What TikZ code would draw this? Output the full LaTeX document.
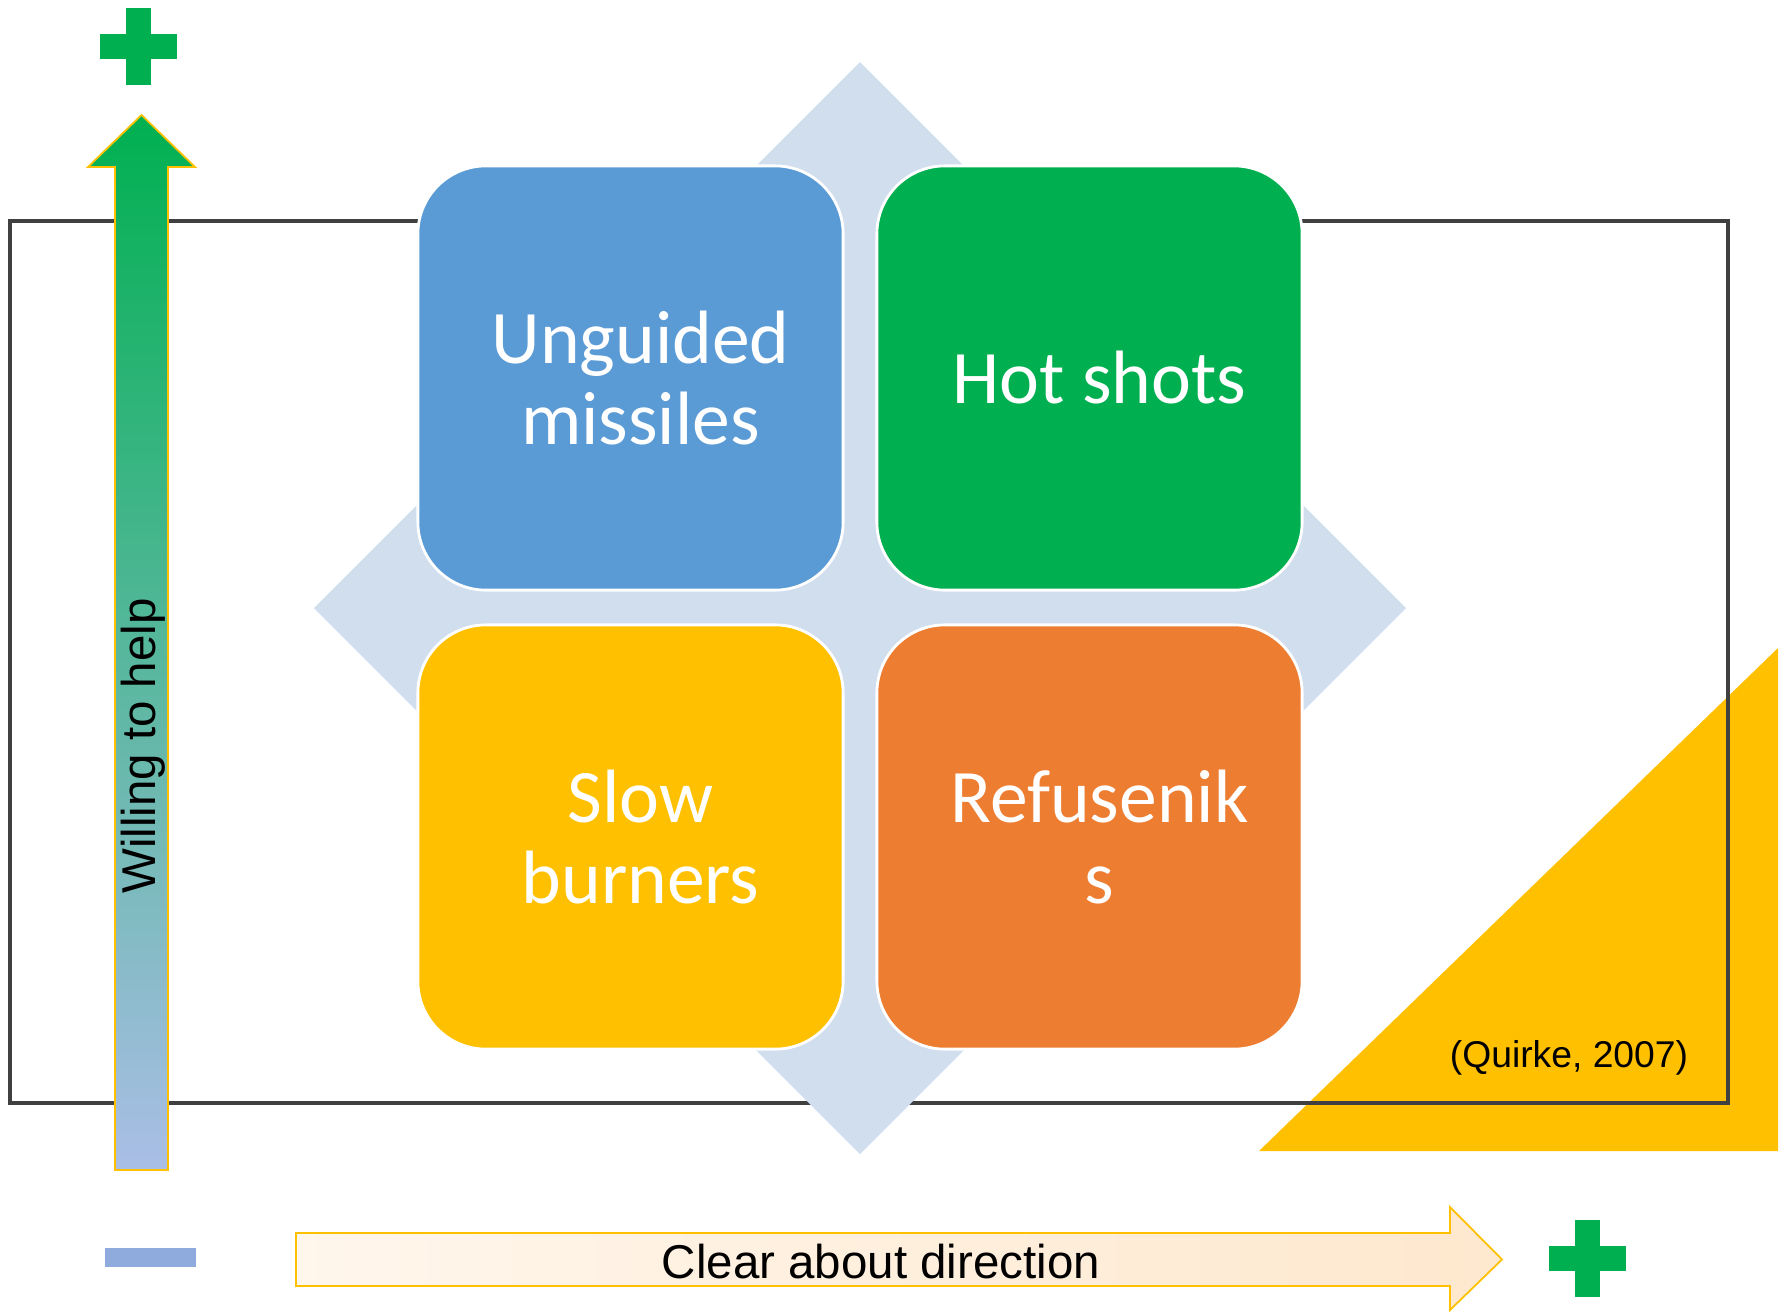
\documentclass[tikz,border=0pt]{standalone}
\usepackage{fontspec}
\usepackage{xcolor}
\setmainfont{Liberation Sans}
\newfontfamily\quadfont{Carlito}
\usetikzlibrary{positioning}

\definecolor{diamblue}{RGB}{209,222,238}
\definecolor{quadblue}{RGB}{91,155,213}
\definecolor{quadgreen}{RGB}{0,176,80}
\definecolor{quadyellow}{RGB}{255,192,0}
\definecolor{quadorange}{RGB}{237,125,49}
\definecolor{framegrey}{RGB}{64,64,64}
\definecolor{minusblue}{RGB}{143,170,220}
\definecolor{arrowlow}{RGB}{170,190,230}
\definecolor{peachleft}{RGB}{255,246,236}
\definecolor{peachright}{RGB}{254,232,206}

\begin{document}
\begin{tikzpicture}[x=0.01cm,y=-0.01cm]
\tikzstyle{every node}+=[inner sep=0pt]
\tikzstyle{quad}=[draw=white, line width=0.8pt, rounded corners=0.68cm, minimum width=4.25cm, minimum height=4.24cm]
\tikzstyle{quadtext}=[text=white, align=center, font=\quadfont\fontsize{21.5}{23.3}\selectfont]
\tikzstyle{plus}=[fill=quadgreen]
\tikzstyle{label}=[text=black, font=\fontsize{13.5}{16}\selectfont]
\useasboundingbox (0,0) rectangle (1787,1311);
\fill [quadyellow] (1259,1151) -- (1778,1151) -- (1778,648) -- cycle;
\draw [framegrey, line width=1.1pt] (10,221) rectangle (1728,1103);
\fill [diamblue] (860,62) -- (1406,608) -- (860,1154) -- (314,608) -- cycle;
\node [quad, fill=quadblue] (unguided) at (630.5,378) {};
\node [quad, fill=quadgreen] (hotshots) at (1089.5,378) {};
\node [quad, fill=quadyellow] (slow) at (630.5,837) {};
\node [quad, fill=quadorange] (refuse) at (1089.5,837) {};
\node [quadtext] (unguidedtxt) at ([xshift=0.1cm]unguided.center) {Unguided\\missiles};
\node [quadtext] (hotshotstxt) at ([xshift=0.1cm]hotshots.center) {Hot shots};
\node [quadtext] (slowtxt) at ([xshift=0.1cm]slow.center) {Slow\\burners};
\node [quadtext] (refusetxt) at ([xshift=0.1cm]refuse.center) {Refusenik\\s};
\shadedraw [top color=quadgreen, bottom color=arrowlow, draw=quadyellow, line width=0.5pt] (115,1170) -- (115,167) -- (88,167) -- (141.5,115) -- (195,167) -- (168,167) -- (168,1170) -- cycle;
\node [label, rotate=90] (willing) at (143,746) {Willing to help};
\shadedraw [left color=peachleft, right color=peachright, draw=quadyellow, line width=0.5pt] (296,1233) -- (1450,1233) -- (1450,1207) -- (1502,1259.5) -- (1450,1310) -- (1450,1286) -- (296,1286) -- cycle;
\node [label] (clear) at (881,1262) {Clear about direction};
\node [text=black, font=\fontsize{10.6}{13}\selectfont] (quirke) at (1569,1058) {(Quirke, 2007)};
\fill [minusblue] (105,1248) rectangle (196,1267);
\foreach \cx/\cy in {138.5/46.5, 1587/1258}
{
\fill [plus] (\cx-38.5,\cy-12.5) rectangle (\cx+38.5,\cy+12.5);
\fill [plus] (\cx-12.5,\cy-38.5) rectangle (\cx+12.5,\cy+38.5);
}
\end{tikzpicture}
\end{document}
